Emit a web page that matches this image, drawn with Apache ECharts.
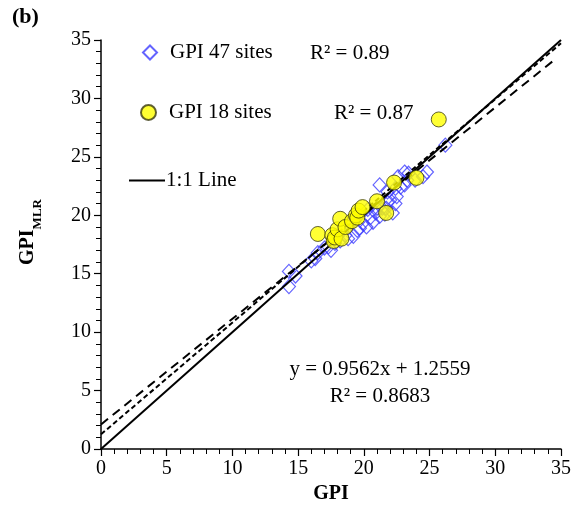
<!DOCTYPE html>
<html>
<head>
<meta charset="utf-8">
<script src="https://cdn.jsdelivr.net/npm/echarts@6/dist/echarts.min.js"></script>
<style>
html,body{margin:0;padding:0;background:#fff;}
#chart{width:579px;height:515px;}
</style>
</head>
<body>
<div id="chart"></div>
<script>
// GPI 47 sites (observed GPI, GPI_MLR)
var sites47 = [
    [14.3,13.9],[14.3,15.2],[14.8,14.8],[16.0,16.1],[16.3,16.3],[16.5,16.8],
    [17.0,17.2],[17.3,17.3],[17.5,17.0],[17.8,17.6],[18.0,18.2],[18.2,17.8],
    [18.6,18.3],[18.8,18.0],[19.0,19.4],[19.2,18.2],[19.5,18.7],[19.7,18.9],
    [19.9,19.3],[20.2,19.0],[20.3,20.5],[20.5,19.8],[20.7,19.4],[20.9,20.2],
    [21.0,20.6],[21.2,19.9],[21.2,22.6],[21.4,20.6],[21.6,20.1],[21.7,20.6],
    [21.8,21.1],[21.8,22.0],[22.0,21.3],[22.2,20.2],[22.4,21.0],[22.4,22.3],
    [22.5,21.6],[22.6,23.3],[22.8,22.4],[23.1,22.6],[23.1,23.7],[23.3,23.0],
    [23.4,23.6],[23.9,23.0],[24.5,23.3],[24.8,23.7],[26.2,26.0]
];
// GPI 18 sites
var sites18 = [
    [16.5,18.4],[17.6,18.3],[17.7,17.8],[17.8,18.1],[18.0,18.8],[18.2,19.7],
    [18.3,18.0],[18.6,19.0],[19.1,19.5],[19.4,20.0],[19.5,19.8],[19.6,20.4],
    [19.9,20.7],[21.0,21.2],[21.7,20.2],[22.3,22.8],[24.0,23.2],[25.7,28.2]
];
var oneToOne = [[0,0],[35,35]];
var fitAll = [[0,1.2559],[35,34.7229]];   // y = 0.9562x + 1.2559
var fit47 = [[0,2.1],[34.5,33.3]];
var axisTicks = [0,5,10,15,20,25,30,35];

var font = '"Liberation Serif","DejaVu Serif",serif';
var myChart = echarts.init(document.getElementById('chart'));

var option = {
    backgroundColor: '#fff',
    animation: false,
    textStyle: {fontFamily: font},
    grid: {left: 101, right: 18, top: 40, bottom: 66},
    legend: [
        {
            data: ['GPI 47 sites'], left: 142, top: 42, padding: 0,
            itemWidth: 14, itemHeight: 14, itemGap: 0,
            textStyle: {fontFamily: font, fontSize: 21, color: '#000', padding: [0,0,0,8]}
        },
        {
            data: ['GPI 18 sites'], left: 140, top: 102, padding: 0,
            itemWidth: 15, itemHeight: 15, itemGap: 0,
            textStyle: {fontFamily: font, fontSize: 21, color: '#000', padding: [0,0,0,8]}
        },
        {
            data: [{name: '1:1 Line', icon: 'rect'}], left: 129, top: 170, padding: 0,
            itemWidth: 36, itemHeight: 2, itemGap: 0,
            textStyle: {fontFamily: font, fontSize: 21, color: '#000', padding: [0,0,0,-4]}
        }
    ],
    xAxis: {
        type: 'value', min: 0, max: 35, interval: 5,
        name: 'GPI', nameLocation: 'middle', nameGap: 33,
        nameTextStyle: {fontFamily: font, fontSize: 20, fontWeight: 'bold', color: '#000'},
        axisLine: {show: true, lineStyle: {color: '#000', width: 1.5}},
        axisTick: {show: true, length: 7, lineStyle: {color: '#000', width: 1.2}},
        minorTick: {show: true, splitNumber: 5, length: 5, lineStyle: {color: '#000', width: 1}},
        axisLabel: {fontFamily: font, fontSize: 20, color: '#000', margin: 10,
            formatter: function (v) { return axisTicks.indexOf(v) >= 0 ? v : ''; }},
        splitLine: {show: false}
    },
    yAxis: {
        type: 'value', min: 0, max: 35, interval: 5,
        axisLine: {show: true, lineStyle: {color: '#000', width: 1.5}},
        axisTick: {show: true, length: 7, lineStyle: {color: '#000', width: 1.2}},
        minorTick: {show: true, splitNumber: 5, length: 5, lineStyle: {color: '#000', width: 1}},
        axisLabel: {fontFamily: font, fontSize: 20, color: '#000', margin: 10},
        splitLine: {show: false}
    },
    series: [
        {
            name: '1:1 Line', type: 'line', data: oneToOne, symbol: 'none',
            lineStyle: {color: '#000', width: 2}, itemStyle: {color: '#000'}, z: 3
        },
        {
            name: 'fit all', type: 'line', data: fitAll, symbol: 'none',
            lineStyle: {color: '#000', width: 2, type: [5, 3]}, z: 3
        },
        {
            name: 'fit 47', type: 'line', data: fit47, symbol: 'none',
            lineStyle: {color: '#000', width: 2, type: [9, 6]}, z: 3
        },
        {
            name: 'GPI 47 sites', type: 'scatter', data: sites47,
            symbol: 'diamond', symbolSize: [13, 14],
            itemStyle: {color: 'rgba(255,255,255,0)', borderColor: '#3c3cff', borderWidth: 1.2},
            z: 2
        },
        {
            name: 'GPI 18 sites', type: 'scatter', data: sites18,
            symbol: 'circle', symbolSize: 15,
            itemStyle: {color: '#ffff00', borderColor: '#3a3a10', borderWidth: 1},
            z: 4
        }
    ],
    graphic: [
        {type: 'text', left: 12, top: 6,
            style: {text: '(b)', font: 'bold 22px ' + font, fill: '#000'}},
        {type: 'text', left: 310, top: 43,
            style: {text: 'R² = 0.89', font: '21px ' + font, fill: '#000'}},
        {type: 'text', left: 334, top: 103,
            style: {text: 'R² = 0.87', font: '21px ' + font, fill: '#000'}},
        {type: 'text', x: 380, y: 369,
            style: {text: 'y = 0.9562x + 1.2559', font: '21px ' + font, fill: '#000',
                align: 'center', verticalAlign: 'middle'}},
        {type: 'text', x: 380, y: 396,
            style: {text: 'R² = 0.8683', font: '21px ' + font, fill: '#000',
                align: 'center', verticalAlign: 'middle'}},
        {type: 'text', x: 31, y: 232, rotation: Math.PI / 2,
            style: {
                text: '{a|GPI}{b|MLR}', align: 'center', verticalAlign: 'middle',
                rich: {
                    a: {fontFamily: font, fontSize: 20, fontWeight: 'bold', fill: '#000',
                        verticalAlign: 'top', lineHeight: 26},
                    b: {fontFamily: font, fontSize: 13, fontWeight: 'bold', fill: '#000',
                        verticalAlign: 'bottom', lineHeight: 26}
                }
            }}
    ]
};

myChart.setOption(option);
</script>
</body>
</html>
